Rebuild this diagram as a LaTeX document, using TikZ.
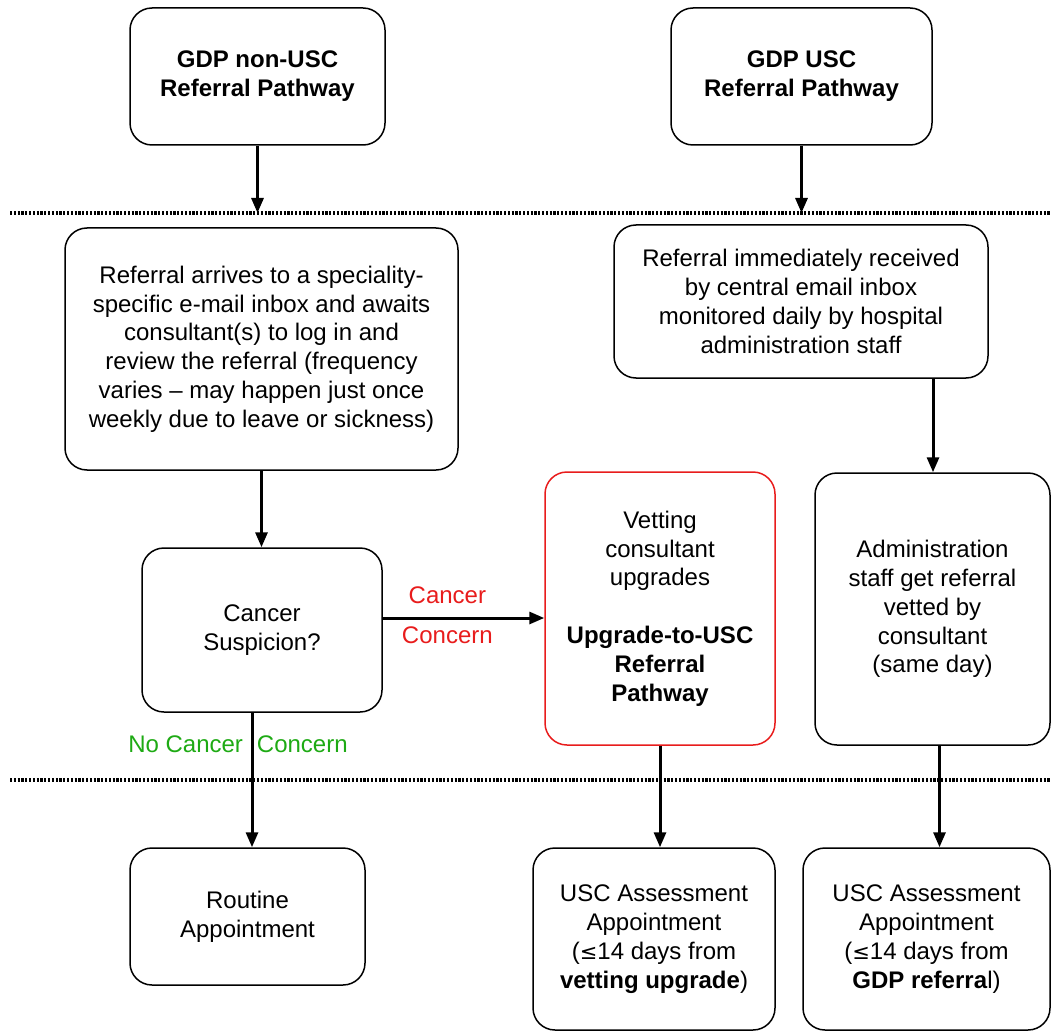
\documentclass[tikz,border=0pt]{standalone}
\usepackage{fontspec}
\setmainfont{Liberation Sans}
\usetikzlibrary{arrows.meta}
\definecolor{cred}{RGB}{232,28,28}
\definecolor{cgreen}{RGB}{30,170,20}
\begin{document}
\begin{tikzpicture}[x=1pt, y=-1pt,
    every node/.style={font=\fontsize{24}{28.8}\selectfont, align=center},
    box/.style={draw, line width=1.5pt, rounded corners=22pt, inner sep=0pt},
    arr/.style={line width=3pt, -{Triangle[length=15pt, width=12pt]}},
    sep/.style={line width=3.5pt, dash pattern=on 2.2pt off 1.6pt}]
            \useasboundingbox (0,0) rectangle (1051,1032);

            \node[box, minimum width=255, minimum height=137] (pnon) at (257.5, 76.5) {\textbf{GDP non-USC}\\\textbf{Referral Pathway}};
            \node[box, minimum width=261, minimum height=137] (pusc) at (801.5, 76.5) {\textbf{GDP USC}\\\textbf{Referral Pathway}};
            \node[box, minimum width=393, minimum height=242] (inbox) at (261.5, 349) {Referral arrives to a speciality-\\specific e-mail inbox and awaits\\consultant(s) to log in and\\review the referral (frequency\\varies -- may happen just once\\weekly due to leave or sickness)};
            \node[box, minimum width=374, minimum height=153] (central) at (801, 301.5) {Referral immediately received\\by central email inbox\\monitored daily by hospital\\administration staff};
            \node[box, minimum width=240, minimum height=164] (susp) at (262, 630) {Cancer\\Suspicion?};
            \node[box, draw=cred, minimum width=230, minimum height=273] (upgr) at (660, 608.5) {Vetting\\consultant\\upgrades\\[28.8pt]\textbf{Upgrade-to-USC}\\\textbf{Referral}\\\textbf{Pathway}};
            \node[box, minimum width=235, minimum height=272] (admin) at (932.5, 609) {Administration\\staff get referral\\vetted by\\consultant\\(same day)};
            \node[box, minimum width=235, minimum height=137] (routine) at (247.5, 916.5) {Routine\\Appointment};
            \node[box, minimum width=242, minimum height=182] (uscA) at (654, 939) {USC Assessment\\Appointment\\({\fontspec{DejaVu Sans}\fontsize{21}{28.8}\selectfont ≤}14 days from\\\textbf{vetting upgrade})};
            \node[box, minimum width=247, minimum height=182] (uscB) at (926.5, 939) {USC Assessment\\Appointment\\({\fontspec{DejaVu Sans}\fontsize{21}{28.8}\selectfont ≤}14 days from\\\textbf{GDP referra}l)};

            \coordinate (topw) at (10, 213);
            \coordinate (tope) at (1051, 213);
            \coordinate (botw) at (10, 780);
            \coordinate (bote) at (1051, 780);
            \draw[sep] (topw) -- (tope);
            \draw[sep] (botw) -- (bote);

            \draw[arr] (pnon) -- (pnon |- topw);
            \draw[arr] (pusc) -- (pusc |- topw);
            \draw[arr] (inbox) -- (inbox |- susp.north);
            \draw[arr] ([xshift=132]central.south) -- ([xshift=132]central.south |- admin.north);
            \draw[arr] ([yshift=12]susp.east) -- ([yshift=12]susp.east -| upgr.west)
                node[pos=0.4, above=9pt, text=cred] {Cancer}
                node[pos=0.4, below=4pt, text=cred] {Concern};
            \draw[arr] ([xshift=-10]susp.south) -- ([xshift=-10]susp.south |- routine.north);
            \node[text=cgreen] (nocc) at (238, 744) {No Cancer\hspace{14pt}Concern};
            \draw[arr] (upgr) -- (upgr |- uscA.north);
            \draw[arr] ([xshift=7]admin.south) -- ([xshift=7]admin.south |- uscB.north);
        \end{tikzpicture}
\end{document}
